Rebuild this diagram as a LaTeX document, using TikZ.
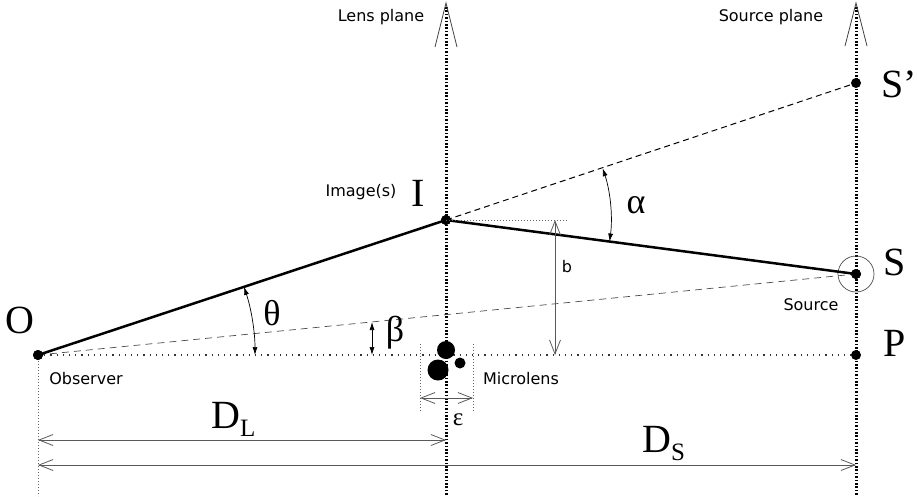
\documentclass[tikz,border=0pt]{standalone}
\usepackage{fontspec}
\setmainfont{Liberation Serif}
\newfontfamily\labfont{DejaVu Sans}
\usetikzlibrary{arrows.meta,calc}
\begin{document}
\begin{tikzpicture}[x=1pt,y=1pt,
 dot/.style={circle,fill=black,inner sep=0pt,minimum size=10pt},
 big/.style={inner sep=0pt,font=\fontsize{40}{40}\selectfont},
 greek/.style={inner sep=0pt,font=\fontsize{36}{36}\selectfont},
 lab/.style={inner sep=0pt,font=\labfont\fontsize{16}{16}\selectfont},
 plane/.style={line width=3pt,dash pattern=on 1.6pt off 1.8pt},
 ray/.style={line width=2.5pt},
 dimtip/.tip={Straight Barb[length=14pt,width=11pt]},
 dim/.style={draw=black!65,line width=0.8pt,dimtip-dimtip},
 angtip/.tip={Latex[length=8pt,width=5pt]},
 ang/.style={line width=0.7pt,angtip-angtip},
 finedots/.style={draw=black!60,line width=0.8pt,dash pattern=on 0.8pt off 2.2pt},
 hdots/.style={draw=black!80,line width=1.5pt,dash pattern=on 1.2pt off 5pt},
 tipline/.style={draw=black!75,line width=0.8pt},
]
\useasboundingbox (0,0) rectangle (917,-496);

% planes
\coordinate (LT) at (446,-3);
\coordinate (LB) at (446,-496);
\coordinate (LL) at (435,-47);
\coordinate (LR) at (457,-47);
\coordinate (ST) at (856,-3);
\coordinate (SB) at (856,-496);
\coordinate (SL) at (845,-46);
\coordinate (SR) at (867,-46);
\draw[plane] ($(LT)+(0,-4)$) -- (LB);
\draw[plane] ($(ST)+(0,-4)$) -- (SB);
\draw[tipline] (LL) -- (LT) -- (LR);
\draw[tipline] (SL) -- (ST) -- (SR);

% points
\node[dot] (O) at (38,-355) {};
\node[dot] (I) at (446,-220) {};
\node[dot] (S) at (856,-274) {};
\node[dot] (P) at (856,-355) {};
\node[dot] (Sp) at (856,-83) {};
\node[circle,draw=black!70,line width=0.7pt,minimum size=36pt,inner sep=0pt] (Sc) at (S) {};

% observer vertical
\coordinate (Obot) at (38,-496);
\draw[finedots] (O.center) -- (Obot);

% rays
\draw[hdots] (O.center) -- (P.center);
\draw[draw=black!70,line width=0.7pt,dash pattern=on 7pt off 5pt] (O.center) -- (S.center);
\draw[line width=1pt,dash pattern=on 6pt off 4pt] (I.center) -- (Sp.center);
\draw[ray] (O.center) -- (I.center) -- (S.center);
\node[dot] at (O) {};
\node[dot] at (I) {};
\node[dot] at (S) {};

% b
\coordinate (bE) at (568,-220);
\coordinate (bT) at (555,-220);
\coordinate (bB) at (555,-355);
\draw[finedots] (I.center) -- (bE);
\draw[dim] (bT) -- (bB);

% microlens
\fill (446,-350) circle (9pt);
\fill (438,-370) circle (10.5pt);
\fill (460,-363) circle (5.5pt);
\coordinate (m1t) at (420,-344);
\coordinate (m1b) at (420,-412);
\coordinate (m2t) at (473,-344);
\coordinate (m2b) at (473,-412);
\draw[finedots] (m1t) -- (m1b);
\draw[finedots] (m2t) -- (m2b);
\coordinate (eL) at (420,-398);
\coordinate (eR) at (473,-398);
\draw[dim] (eL) -- (eR);

% distances
\coordinate (dl1) at (38,-440);
\coordinate (dl2) at (446,-440);
\coordinate (ds1) at (38,-465);
\coordinate (ds2) at (856,-465);
\draw[dim] (dl1) -- (dl2);
\draw[dim] (ds1) -- (ds2);

% angles
\draw[ang] ($(O.center)+(0:217pt)$) arc[start angle=0,end angle=18.3,radius=217pt];
\coordinate (be1) at (372,-322);
\coordinate (be2) at (372,-355);
\draw[ang] (be1) -- (be2);
\draw[ang] ($(I.center)+(-7.5:165pt)$) arc[start angle=-7.5,end angle=18.3,radius=165pt];

% labels
\node[lab] at (381,-17) {Lens plane};
\node[lab] at (771,-17) {Source plane};
\node[lab] at (361,-192) {Image(s)};
\node[lab] at (86,-379) {Observer};
\node[lab] at (521,-379) {Microlens};
\node[lab] at (811,-305) {Source};
\node[lab] at (567,-267) {b};
\node[big] at (20,-320) {O};
\node[big] at (418,-193) {I};
\node[big] at (895,-262) {S};
\node[big] at (895,-343) {P};
\node[big] at (899,-84) {S’};
\node[greek] at (272,-313) {θ};
\node[greek] at (395,-333) {β};
\node[greek] at (636,-205) {α};
\node[inner sep=0pt,font=\fontsize{25}{25}\selectfont] at (458,-420) {ε};
\node[big,anchor=base west] at (211,-428) {D\raisebox{-8pt}{\fontsize{25}{25}\selectfont L}};
\node[big,anchor=base west] at (642,-452) {D\raisebox{-8pt}{\fontsize{25}{25}\selectfont S}};
\end{tikzpicture}
\end{document}
